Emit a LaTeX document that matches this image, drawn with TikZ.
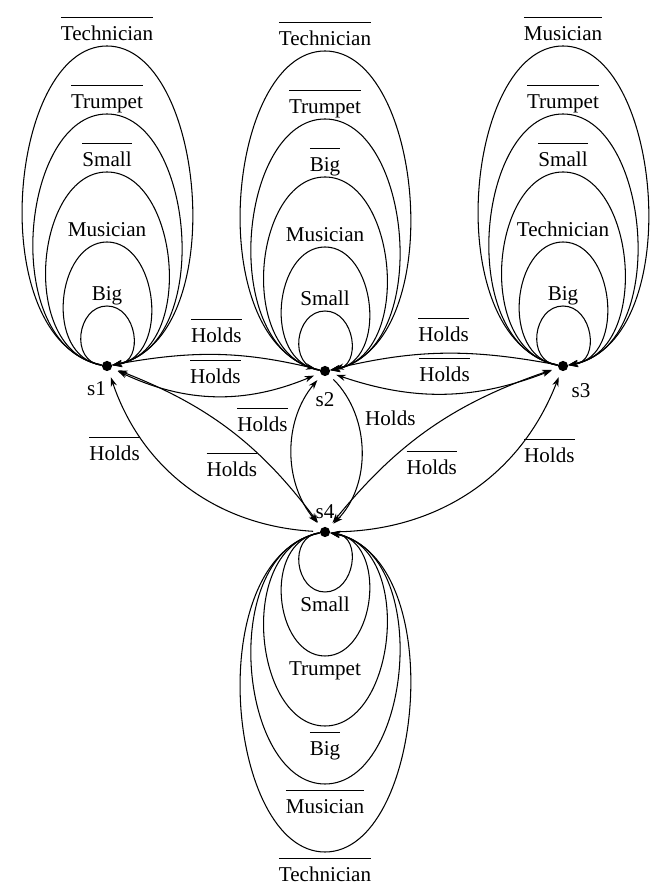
\documentclass[tikz,border=0pt]{standalone}
\usepackage{fontspec}
\setmainfont{Liberation Serif}
\usepackage{tikz}
\usetikzlibrary{arrows.meta}

% negated proposition: text with a bar over it
\newcommand{\nt}[1]{$\overline{\mbox{#1}\rule{0pt}{9.5pt}}$}
% self loops: node, height, half width, label
\newcommand{\uploop}[4]{%
  \draw[loopline] (#1) .. controls +(-1.45*#3,0.08*#2) and +(-1.15*#3,0) .. ++(0,#2)
    node[uplab] {#4}
    .. controls +(1.15*#3,0) and +(1.45*#3,0.08*#2) .. (#1);}
\newcommand{\downloop}[4]{%
  \draw[loopline] (#1) .. controls +(-1.45*#3,-0.08*#2) and +(-1.15*#3,0) .. ++(0,-#2)
    node[downlab] {#4}
    .. controls +(1.15*#3,0) and +(1.45*#3,-0.08*#2) .. (#1);}

\begin{document}
\begin{tikzpicture}[x=0.016667cm, y=0.016667cm,
    >={Stealth[length=4.5pt,width=3pt]},
    world/.style={circle, fill, inner sep=0pt, minimum size=1.7mm},
    loopline/.style={->, line width=0.5pt},
    uplab/.style={anchor=base, yshift=0.9mm},
    downlab/.style={anchor=north, inner sep=0.8mm},
    trans/.style={line width=0.5pt},
    gap/.style={shorten <=3pt, shorten >=3pt}
  ]
  \useasboundingbox (0,0) rectangle (655,893);
  % Worlds
  \node[world, label={[xshift=-5pt, label distance=1pt]below:s1}] (s1) at (107,527) {};
  \node[world, label={[label distance=4pt]below:s2}] (s2) at (325,522) {};
  \node[world, label={[xshift=8.5pt, label distance=2pt]below:s3}] (s3) at (563,527) {};
  \node[world, label={above:s4}] (s4) at (325,361) {};
  % Loops of s1
  \uploop{s1}{60}{26}{Big}
  \uploop{s1}{124}{44}{Musician}
  \uploop{s1}{194}{62}{\nt{Small}}
  \uploop{s1}{252}{75}{\nt{Trumpet}}
  \uploop{s1}{320}{86}{\nt{Technician}}
  % Loops of s2
  \uploop{s2}{60}{26}{Small}
  \uploop{s2}{124}{44}{Musician}
  \uploop{s2}{194}{62}{\nt{Big}}
  \uploop{s2}{252}{75}{\nt{Trumpet}}
  \uploop{s2}{320}{86}{\nt{Technician}}
  % Loops of s3
  \uploop{s3}{60}{26}{Big}
  \uploop{s3}{124}{44}{Technician}
  \uploop{s3}{194}{62}{\nt{Small}}
  \uploop{s3}{252}{75}{\nt{Trumpet}}
  \uploop{s3}{320}{86}{\nt{Musician}}
  % Loops of s4
  \downloop{s4}{60}{26}{Small}
  \downloop{s4}{124}{44}{Trumpet}
  \downloop{s4}{194}{62}{\nt{Big}}
  \downloop{s4}{252}{75}{\nt{Musician}}
  \downloop{s4}{320}{86}{\nt{Technician}}
  % Transitions between worlds
  \draw[trans, ->, shorten >=2pt] (s1) to[bend left=12] node[above=2pt] {\nt{Holds}} (s2);
  \draw[trans, <->, gap] (s1) to[bend right=24] node[above=2pt] {\nt{Holds}} (s2);
  \draw[trans, ->, shorten >=2pt] (s3) to[bend right=12] node[above=2pt] {\nt{Holds}} (s2);
  \draw[trans, <->, gap] (s2) to[bend right=20] node[above=2pt] {\nt{Holds}} (s3);
  \draw[trans, <->, gap] (s2) to[bend right=40] node[pos=0.3, left=1pt] {\nt{Holds}} (s4);
  \draw[trans, ->, gap] (s2) to[bend left=45] node[pos=0.3, right=1pt] {Holds} (s4);
  \draw[trans, <->, gap] (s1) to[bend left=16] node[pos=0.65, below left=0pt, xshift=3pt, yshift=5pt] {\nt{Holds}} (s4);
  \draw[trans, <-, gap] (s1) to[bend right=34] node[pos=0.3, left=1pt] {\nt{Holds}} (s4);
  \draw[trans, <->, gap] (s3) to[bend right=16] node[pos=0.65, below right=0pt, yshift=5pt] {\nt{Holds}} (s4);
  \draw[trans, <-, gap] (s3) to[bend left=34] node[pos=0.3, right=1pt] {\nt{Holds}} (s4);
\end{tikzpicture}
\end{document}
